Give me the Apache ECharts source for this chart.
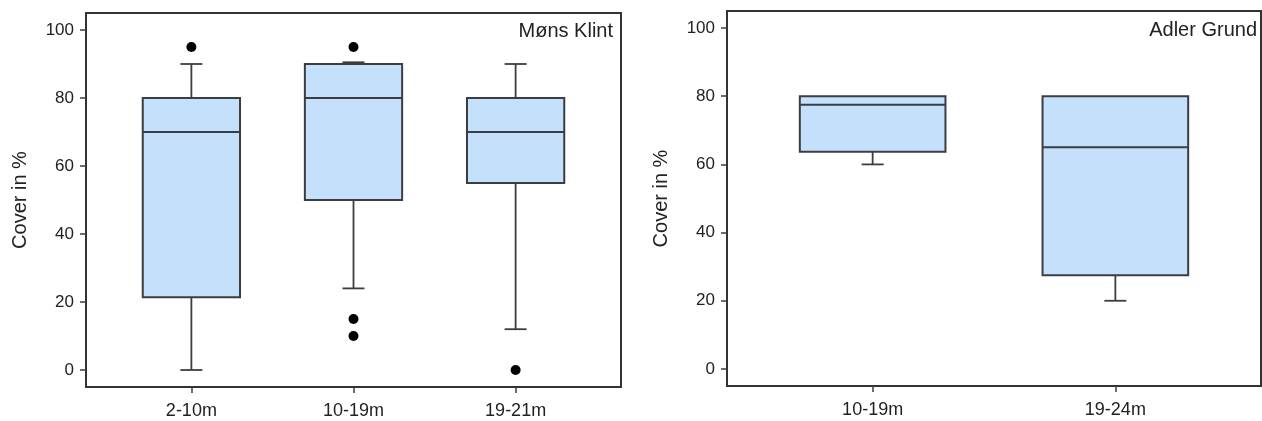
<!DOCTYPE html>
<html>
<head>
<meta charset="utf-8">
<script src="https://cdn.jsdelivr.net/npm/echarts@6/dist/echarts.min.js"></script>
<style>
html,body{margin:0;padding:0;background:#fff;}
#c{width:1262px;height:421px;}
</style>
</head>
<body>
<div id="c"></div>
<script>
// ---- data ----
const leftCategories = ['2-10m', '10-19m', '19-21m'];
// [min, Q1, median, Q3, max]
const leftBoxes = [
  [0, 21.4, 70, 80, 90],
  [24, 50, 80, 90, 90.5],
  [12, 55, 70, 80, 90]
];
// [category index, value]
const leftOutliers = [[0, 95], [1, 95], [1, 15], [1, 10], [2, 0]];
const rightCategories = ['10-19m', '19-24m'];
const rightBoxes = [
  [60, 63.7, 77.5, 80, 80],
  [20, 27.5, 65, 80, 80]
];
const yTickValues = [0, 20, 40, 60, 80, 100];
const leftTitle = 'Møns Klint';
const rightTitle = 'Adler Grund';
const yName = 'Cover in %';

// ---- build ----
const FONT = "'Liberation Sans', Arial, sans-serif";
const LINE = '#3a3e43';
const FILL = '#c4e0fb';

function boxData(boxes) {
  return boxes.map((b, i) => [i + 1].concat(b));
}
function outlierData(outs) {
  return outs.map(o => [o[0] + 1, o[1]]);
}

function renderBox(params, api) {
  const x = api.value(0);
  const lo = api.value(1), q1 = api.value(2), med = api.value(3), q3 = api.value(4), hi = api.value(5);
  const tl = api.coord([x - 0.3, q3]);
  const br = api.coord([x + 0.3, q1]);
  const mL = api.coord([x - 0.3, med]);
  const mR = api.coord([x + 0.3, med]);
  const cLo = api.coord([x, lo]);
  const cHi = api.coord([x, hi]);
  const cQ1 = api.coord([x, q1]);
  const cQ3 = api.coord([x, q3]);
  const capHalf = 11;
  const ls = {stroke: LINE, lineWidth: 1.8};
  const children = [];
  if (lo < q1) {
    children.push({type: 'line', shape: {x1: cQ1[0], y1: cQ1[1], x2: cLo[0], y2: cLo[1]}, style: ls});
    children.push({type: 'line', shape: {x1: cLo[0] - capHalf, y1: cLo[1], x2: cLo[0] + capHalf, y2: cLo[1]}, style: ls});
  }
  if (hi > q3) {
    children.push({type: 'line', shape: {x1: cQ3[0], y1: cQ3[1], x2: cHi[0], y2: cHi[1]}, style: ls});
    children.push({type: 'line', shape: {x1: cHi[0] - capHalf, y1: cHi[1], x2: cHi[0] + capHalf, y2: cHi[1]}, style: ls});
  }
  children.push({type: 'rect', shape: {x: tl[0], y: tl[1], width: br[0] - tl[0], height: br[1] - tl[1]},
    style: {fill: FILL, stroke: LINE, lineWidth: 2}});
  children.push({type: 'line', shape: {x1: mL[0], y1: mL[1], x2: mR[0], y2: mR[1]}, style: {stroke: LINE, lineWidth: 2}});
  return {type: 'group', children: children};
}

function yAxisDef(gi) {
  return {
    type: 'value', gridIndex: gi, min: -5, max: 105,
    name: yName, nameLocation: 'middle', nameGap: 56, nameRotate: 90,
    nameTextStyle: {fontFamily: FONT, fontSize: 20, color: '#222'},
    axisLine: {show: false, onZero: false},
    splitLine: {show: false},
    axisTick: {show: true, length: 6, customValues: yTickValues, lineStyle: {color: LINE, width: 1.5}},
    axisLabel: {customValues: yTickValues, margin: 12, fontFamily: FONT, fontSize: 17, color: '#222'}
  };
}
function xAxisDef(gi, min, max, cats) {
  const vals = cats.map((c, i) => i + 1);
  return {
    type: 'value', gridIndex: gi, min: min, max: max,
    axisLine: {show: false, onZero: false},
    splitLine: {show: false},
    axisTick: {show: true, length: 6, customValues: vals, lineStyle: {color: LINE, width: 1.5}},
    axisLabel: {customValues: vals, margin: 15, fontFamily: FONT, fontSize: 18, color: '#222',
      formatter: v => cats[Math.round(v) - 1] || ''}
  };
}

const chart = echarts.init(document.getElementById('c'), null, {renderer: 'canvas'});
chart.setOption({
  backgroundColor: '#fff',
  animation: false,
  grid: [
    {left: 86, top: 13, width: 535, height: 374, show: true, borderColor: '#333', borderWidth: 2, backgroundColor: 'transparent'},
    {left: 727, top: 11, width: 534, height: 375, show: true, borderColor: '#333', borderWidth: 2, backgroundColor: 'transparent'}
  ],
  xAxis: [
    xAxisDef(0, 0.35, 3.65, leftCategories),
    xAxisDef(1, 0.4, 2.6, rightCategories)
  ],
  yAxis: [yAxisDef(0), yAxisDef(1)],
  graphic: [
    {type: 'text', right: 1262 - 613, top: 21, style: {text: leftTitle, font: '20px ' + FONT, fill: '#222'}},
    {type: 'text', right: 1262 - 1257, top: 20, style: {text: rightTitle, font: '20px ' + FONT, fill: '#222'}}
  ],
  series: [
    {type: 'custom', xAxisIndex: 0, yAxisIndex: 0, renderItem: renderBox, data: boxData(leftBoxes), encode: {x: 0, y: [1, 2, 3, 4, 5]}},
    {type: 'scatter', xAxisIndex: 0, yAxisIndex: 0, symbolSize: 10, itemStyle: {color: '#000', opacity: 1}, data: outlierData(leftOutliers)},
    {type: 'custom', xAxisIndex: 1, yAxisIndex: 1, renderItem: renderBox, data: boxData(rightBoxes), encode: {x: 0, y: [1, 2, 3, 4, 5]}}
  ]
});
</script>
</body>
</html>
